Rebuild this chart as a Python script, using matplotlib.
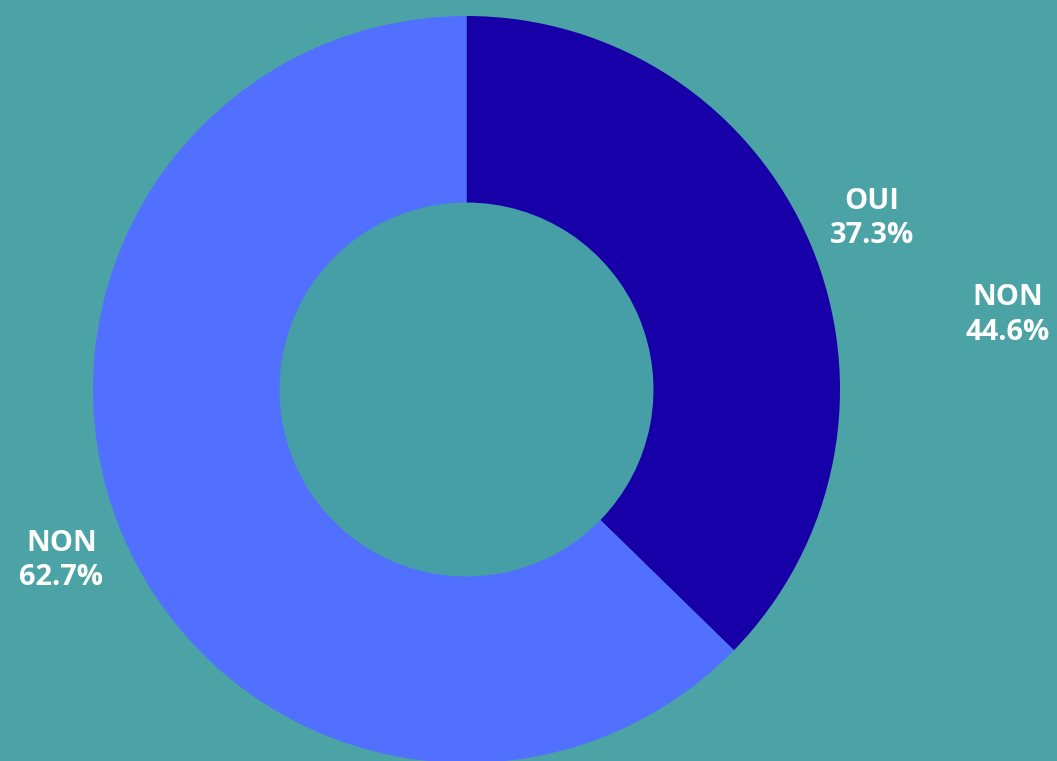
import matplotlib
matplotlib.use("Agg")
import matplotlib.pyplot as plt

labels = ["OUI", "NON"]
values = [37.3, 62.7]
colors = ["#1800A8", "#5170FF"]
extra_label = "NON"
extra_value = 44.6

BG = "#4BA3A6"
HOLE = "#469EA7"
FONT = ["Open Sans", "DejaVu Sans"]

W, H = 1057, 761
fig = plt.figure(figsize=(W / 100, H / 100), dpi=100, facecolor=BG)
ax = fig.add_axes([0, 0, 1, 1])
ax.set_facecolor(BG)

cx, cy, R, r_in = 466.5, 389.5, 373.5, 187.0

texts = [f"{l}\n{v:.1f}%" for l, v in zip(labels, values)]
wedges, lbls = ax.pie(values, colors=colors, startangle=-90, counterclock=True,
                      center=(cx, cy), radius=R, labels=texts, labeldistance=1.177,
                      wedgeprops=dict(width=R - r_in, linewidth=0),
                      textprops=dict(color="white", fontsize=21, fontweight="bold",
                                     family=FONT, ha="center", va="center",
                                     linespacing=1.25),
                      frame=True)
ax.set_xlim(0, W)
ax.set_ylim(H, 0)
ax.set_aspect("equal")
ax.axis("off")
hole = plt.Circle((cx, cy), r_in, color=HOLE, zorder=0)
ax.add_patch(hole)

ax.text(1008, 315, f"{extra_label}\n{extra_value:.1f}%", color="white", fontsize=21,
        fontweight="bold", family=FONT, ha="center", va="center", linespacing=1.25)

fig.savefig("out.png", dpi=100, facecolor=BG)
